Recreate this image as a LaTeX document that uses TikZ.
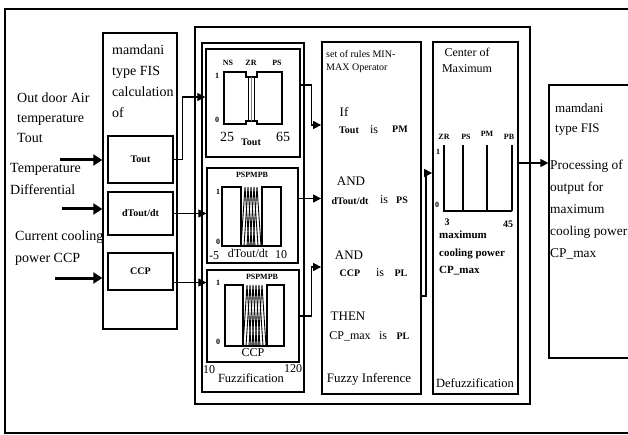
\documentclass[tikz,border=0pt]{standalone}
\usepackage{fontspec}
\setmainfont{Liberation Serif}
\usetikzlibrary{arrows.meta, positioning}
\newcommand{\fsz}[2]{\fontsize{#1}{#2}\selectfont}

\tikzset{
  blk/.style={draw, line width=1.4pt, inner sep=0pt},
  conn/.style={line width=1.2pt, -{Triangle[length=8pt,width=8pt]}},
  inarr/.style={line width=3pt, -{Triangle[length=9pt,width=11pt]}},
  txt/.style={inner sep=0pt, align=left, anchor=north west},
  lbl/.style={inner sep=0pt, font=\bfseries\fsz{8}{9}},
  num/.style={inner sep=0pt, font=\fsz{12}{13}},
  mf/.style={line width=0.9pt},
}

\begin{document}
\begin{tikzpicture}[x=1pt, y=-1pt]
  \useasboundingbox (0,0) rectangle (628,435);
  % cornice
  \draw[line width=1.6pt] (5,9) rectangle (640,433);

  % ingressi
  \node[txt, font=\fsz{14}{20}] (tin1) at (17,93) {Out door Air\\temperature\\Tout};
  \node[txt, font=\fsz{14}{22}] (tin2) at (10,163) {Temperature\\Differential};
  \node[txt, font=\fsz{14}{22}] (tin3) at (15,231) {Current cooling\\power CCP};
  \coordinate (a1) at (60,160);
  \coordinate (a2) at (62,209);
  \coordinate (a3) at (55,278);

  % mamdani FIS ingresso
  \node[blk, minimum width=74pt, minimum height=296pt] (fis) at (140,181) {};
  \node[txt, font=\fsz{14}{21}] (fist) at (112,45) {mamdani\\type FIS\\calculation\\of};
  \node[blk, minimum width=65pt, minimum height=47pt, font=\bfseries\fsz{10}{11}] (tout) at (140.5,159.5) {Tout};
  \node[blk, minimum width=65pt, minimum height=43pt, font=\bfseries\fsz{10}{11}] (dtdt) at (140.5,213.5) {dTout/dt};
  \node[blk, minimum width=65pt, minimum height=37pt, font=\bfseries\fsz{10}{11}] (ccp) at (140.5,271.5) {CCP};
  \draw[inarr] (a1) -- (a1 -| fis.west);
  \draw[inarr] (a2) -- (a2 -| fis.west);
  \draw[inarr] (a3) -- (a3 -| fis.west);

  % sistema fuzzy
  \node[blk, line width=2.6pt, minimum width=335pt, minimum height=377pt] (fs) at (362.5,215.5) {};
  \node[blk, line width=1.8pt, minimum width=102pt, minimum height=349pt] (fuz) at (253,217.5) {};
  \node[blk, minimum width=94pt, minimum height=108pt] (p1) at (253,103) {};
  \node[blk, minimum width=91pt, minimum height=95pt] (p2) at (252.5,215.5) {};
  \node[blk, minimum width=92pt, minimum height=92pt] (p3) at (253,316) {};

  %pannello Tout
  \draw[line width=1.3pt] (224,124) -- (224,72) -- (246,72) -- (246,77) -- (257,77) -- (257,72) -- (282,72)
    -- (282,124) -- (257,124) -- (257,121) -- (246,121) -- (246,124) -- cycle;
  \draw (248.5,77) -- (248.5,121);
  \draw (254.5,77) -- (254.5,121);
  \draw[gray] (251.5,77) -- (251.5,121);
  \node[lbl] (ns) at (228,63) {NS};
  \node[lbl] (zr) at (251,63) {ZR};
  \node[lbl] (ps) at (277,63) {PS};
  \node[lbl] (one1) at (217,76) {1};
  \node[lbl] (zero1) at (217,120) {0};
  \node[inner sep=0pt, font=\fsz{14}{15}] (lo1) at (227,137) {25};
  \node[lbl, font=\bfseries\fsz{10}{11}] (x1) at (251,142) {Tout};
  \node[inner sep=0pt, font=\fsz{14}{15}] (hi1) at (283,137) {65};

  %pannello dTout/dt
  \draw[line width=1.3pt] (241,187) rectangle (222,246);
  \draw[line width=1.3pt] (262,187) rectangle (281,246);
  \draw[line width=1.3pt] (222,246) -- (281,246);
  \foreach \s in {0,3,...,12}
    \draw[mf] ({241+\s},246) -- ({245+\s},187) -- ({249+\s},246);
  \node[lbl] (mf2) at (252,175) {PSPMPB};
  \node[lbl] (one2) at (218,192) {1};
  \node[lbl] (zero2) at (218,242) {0};
  \node[num] (lo2) at (214,256) {-5};
  \node[num] (x2) at (248,253) {dTout/dt};
  \node[num] (hi2) at (281,255) {10};

  %pannello CCP
  \draw[line width=1.3pt] (225,285) rectangle (243,346);
  \draw[line width=1.3pt] (267,285) rectangle (284,346);
  \draw[line width=1.3pt] (225,346) -- (284,346);
  \foreach \s in {0,3,...,15}
    \draw[mf] ({243+\s},346) -- ({247+\s},285) -- ({251+\s},346);
  \node[lbl] (mf3) at (262,277) {PSPMPB};
  \node[lbl] (one3) at (218,283) {1};
  \node[lbl] (zero3) at (218,342) {0};
  \node[num] (x3) at (253,353) {CCP};
  \node[num] (lo3) at (209,370) {10};
  \node[num, font=\fsz{12.5}{13}] (fuzt) at (251,378) {Fuzzification};
  \node[num] (hi3) at (293,369) {120};

  % inferenza
  \node[blk, line width=1.8pt, minimum width=99pt, minimum height=352pt] (inf) at (371.5,218) {};
  \node[txt, font=\fsz{10}{13}] (inft) at (326,50) {set of rules MIN-\\MAX Operator};
  \node[num, font=\fsz{13}{14}] (w1) at (344,112) {If};
  \node[num, font=\bfseries\fsz{10}{11}] (r1a) at (349,130) {Tout};
  \node[num] (r1b) at (374,130) {is};
  \node[num, font=\bfseries\fsz{10}{11}] (r1c) at (400,129) {PM};
  \node[num, font=\fsz{13}{14}] (w2) at (351,181) {AND};
  \node[num, font=\bfseries\fsz{10}{11}] (r2a) at (350,201) {dTout/dt};
  \node[num] (r2b) at (384,200) {is};
  \node[num, font=\bfseries\fsz{10}{11}] (r2c) at (402,200) {PS};
  \node[num, font=\fsz{13}{14}] (w3) at (349,255) {AND};
  \node[num, font=\bfseries\fsz{10}{11}] (r3a) at (350,273) {CCP};
  \node[num] (r3b) at (380,273) {is};
  \node[num, font=\bfseries\fsz{10}{11}] (r3c) at (401,273) {PL};
  \node[num, font=\fsz{13}{14}] (w4) at (348,316) {THEN};
  \node[num] (r4a) at (350,336) {CP\_max};
  \node[num] (r4b) at (383,336) {is};
  \node[num, font=\bfseries\fsz{10}{11}] (r4c) at (403,336) {PL};
  \node[num, font=\fsz{13}{14}] (inff) at (369,379) {Fuzzy Inference};

  % defuzzificazione
  \node[blk, line width=1.8pt, minimum width=85pt, minimum height=352pt] (dfz) at (475.5,218) {};
  \node[inner sep=0pt, align=center, anchor=north, font=\fsz{12}{16}] (dfzt) at (467,48) {Center of\\Maximum};
  \draw[line width=1.2pt] (444,145) -- (444,211) -- (512,211);
  \foreach \xx in {463,487,512}
    \draw[line width=1.2pt] (\xx,145) -- (\xx,211);
  \node[lbl] (zr4) at (444,137) {ZR};
  \node[lbl] (ps4) at (466,137) {PS};
  \node[lbl] (pm4) at (487,134) {PM};
  \node[lbl] (pb4) at (509,137) {PB};
  \node[lbl] (one4) at (438,152) {1};
  \node[lbl] (zero4) at (437,205) {0};
  \node[lbl, font=\bfseries\fsz{10}{11}] (lo4) at (447,222) {3};
  \node[lbl, font=\bfseries\fsz{10}{11}] (hi4) at (508,224) {45};
  \node[txt, font=\bfseries\fsz{11}{17.5}] (dfzv) at (439,231) {maximum\\cooling power\\CP\_max};
  \node[num, font=\fsz{12.5}{13}] (dfzf) at (475,383) {Defuzzification};

  % uscita
  \node[blk, line width=1.2pt, minimum width=91pt, minimum height=273pt] (outb) at (594.5,221.5) {};
  \node[txt, font=\fsz{13}{20}] (outt) at (555,103) {mamdani\\type FIS};
  \node[txt, font=\fsz{13.4}{22}] (outp) at (550,160) {Processing of\\output for\\maximum\\cooling power\\CP\_max};

  % collegamenti
  \draw[conn] (tout.east) -- ++(9,0) |- ([yshift=6pt]p1.west);
  \draw[conn] (dtdt.east) -- (dtdt.east -| p2.west);
  \draw[conn] ([yshift=-11pt]ccp.east) -- ([yshift=-11pt]ccp.east -| p3.west);
  \draw[conn] ([yshift=18pt]p1.east) -- ++(11,0) |- ([yshift=93pt]inf.west);
  \draw[conn] ([yshift=17pt]p2.east) -- ([yshift=17pt]p2.east -| inf.west);
  \draw[conn] (p3.east) -- ++(12,0) |- ([yshift=-49pt]inf.west);
  \draw[conn] ([yshift=-78pt]inf.east) -- ++(4,0) |- ([yshift=45pt]dfz.west);
  \draw[conn] ([yshift=55pt]dfz.east) -- ([yshift=55pt]dfz.east -| outb.west);
\end{tikzpicture}
\end{document}
